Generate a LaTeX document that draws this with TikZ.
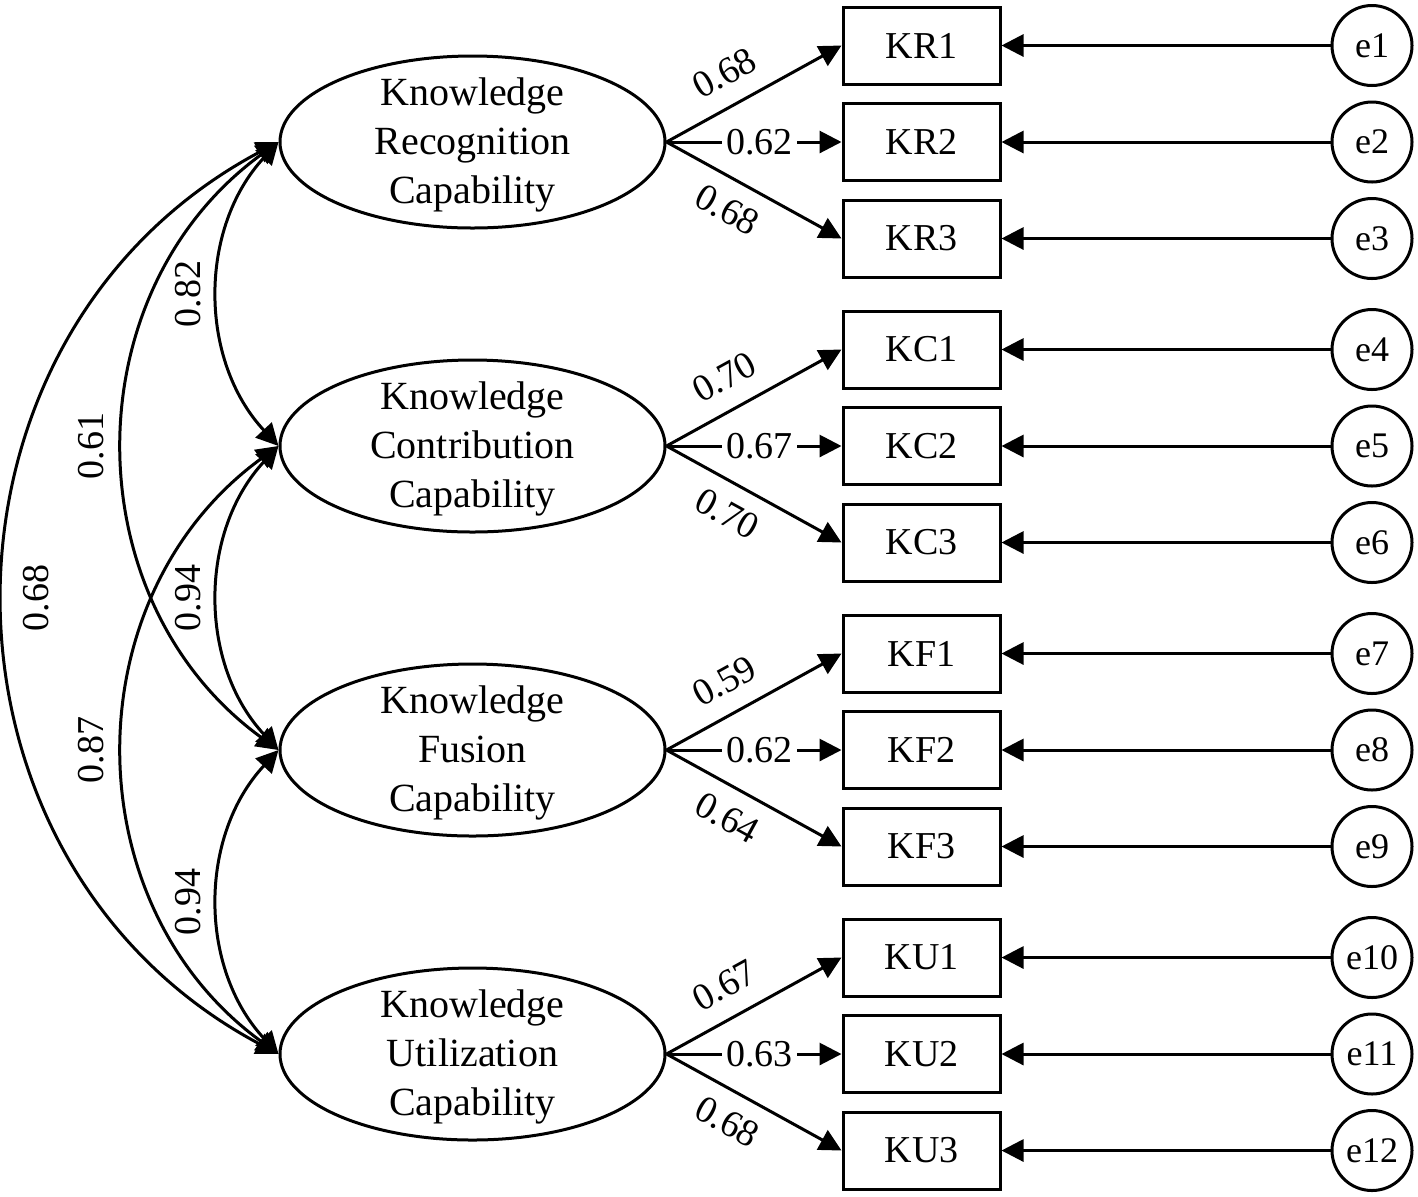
\documentclass[tikz,border=0pt]{standalone}
\usepackage{fontspec}
\setmainfont{Liberation Serif}
\usetikzlibrary{arrows.meta}
\usetikzlibrary{shapes.geometric}

\begin{document}
\begin{tikzpicture}[x=0.5pt,y=-0.5pt,line width=1.5pt,
	>={Triangle[length=11pt,width=11pt]},
	latent/.style={draw,ellipse,minimum width=192.5pt,minimum height=86pt,inner sep=0pt},
	latentname/.style={align=center,inner sep=0pt,yshift=-1.5pt,font=\fontsize{20}{24.5}\selectfont},
	indicator/.style={draw,rectangle,minimum width=78.5pt,minimum height=38.5pt,inner sep=0pt,font=\fontsize{19}{22}\selectfont},
	errorterm/.style={draw,circle,minimum size=40pt,inner sep=0pt,font=\fontsize{18}{20}\selectfont},
	loading/.style={sloped,inner sep=0pt,font=\fontsize{19}{20}\selectfont},
	midloading/.style={fill=white,inner sep=2pt,font=\fontsize{19}{20}\selectfont},
	cov/.style={sloped,allow upside down,inner sep=0pt,font=\fontsize{19}{20}\selectfont}]

		\useasboundingbox (0,0) rectangle (1418,1196);

		% latent variables
		\node [latent] (KR) at (472.5,142) {};
		\node [latent] (KC) at (472.5,446) {};
		\node [latent] (KF) at (472.5,750) {};
		\node [latent] (KU) at (472.5,1054) {};
		\node [latentname] (KRname) at (KR) {Knowledge\\Recognition\\Capability};
		\node [latentname] (KCname) at (KC) {Knowledge\\Contribution\\Capability};
		\node [latentname] (KFname) at (KF) {Knowledge\\Fusion\\Capability};
		\node [latentname] (KUname) at (KU) {Knowledge\\Utilization\\Capability};

		% indicators, errors and loadings
		\foreach \f/\y/\la/\lb/\lc/\e in {KR/142/0.68/0.62/0.68/0, KC/446/0.70/0.67/0.70/3, KF/750/0.59/0.62/0.64/6, KU/1054/0.67/0.63/0.68/9}{
			\foreach \i/\dy in {1/-96.5,2/0,3/96.5}{
				\pgfmathtruncatemacro\k{\e+\i}
				\pgfmathsetmacro\yy{\y+\dy}
				\node [indicator] (\f\i) at (921.5,\yy) {\f\i};
				\node [errorterm] (e\k) at (1372,\yy) {e\k};
				\draw [->] (e\k.west) -- (\f\i.east);
			}
			\draw [->] (\f.east) -- (\f1.west) node [loading,pos=0.42,above=9pt] (\f a) {\la};
			\draw [->] (\f.east) -- (\f2.west) node [midloading,pos=0.53] (\f b) {\lb};
			\draw [->] (\f.east) -- (\f3.west) node [loading,pos=0.43,below=7.75pt] (\f c) {\lc};
		}

		% correlations
		\draw [<->] (KC.west) .. controls +(-80,-86) and +(-80,86) .. (KR.west) node [cov,pos=0.5,above=8pt] (c1) {0.82};
		\draw [<->] (KF.west) .. controls +(-80,-86) and +(-80,86) .. (KC.west) node [cov,pos=0.5,above=8pt] (c2) {0.94};
		\draw [<->] (KU.west) .. controls +(-80,-86) and +(-80,86) .. (KF.west) node [cov,pos=0.5,above=8pt] (c3) {0.94};
		\draw [<->] (KF.west) .. controls +(-206,-150) and +(-206,150) .. (KR.west) node [cov,pos=0.5,above=9pt] (c4) {0.61};
		\draw [<->] (KU.west) .. controls +(-206,-150) and +(-206,150) .. (KC.west) node [cov,pos=0.5,above=9pt] (c5) {0.87};
		\draw [<->] (KU.west) .. controls +(-365,-194) and +(-365,194) .. (KR.west) node [cov,pos=0.5,below=8.5pt] (c6) {0.68};

\end{tikzpicture}
\end{document}
